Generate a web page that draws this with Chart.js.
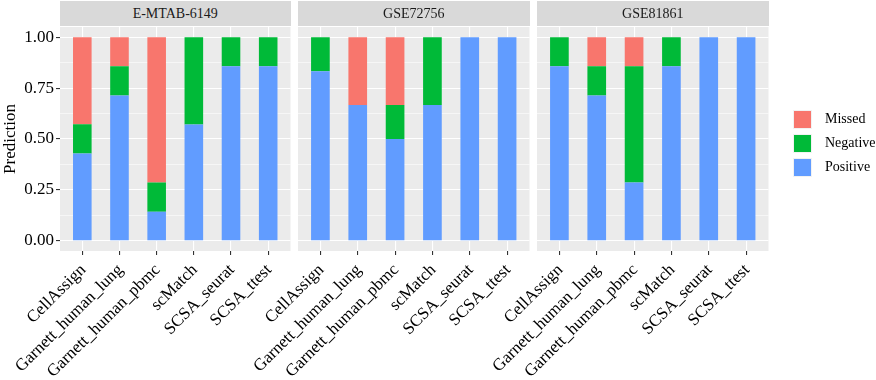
<!DOCTYPE html>
<html>
<head>
<meta charset="utf-8">
<script src="https://cdn.jsdelivr.net/npm/chart.js@4.4.0/dist/chart.umd.min.js"></script>
<style>
  body { margin: 0; background: #fff; }
  #wrap { position: relative; width: 876px; height: 380px; font-family: 'Liberation Serif', serif; }
  #wrap canvas { position: absolute; left: 0; top: 0; }
  .strip { position: absolute; top: 1px; height: 25px; line-height: 26px; background: #d9d9d9; color: #1a1a1a; font-size: 14px; text-align: center; }
  .key { position: absolute; left: 793px; width: 17px; height: 17px; border: 1px solid #f2f2f2; }
  .lab { position: absolute; left: 825px; font-size: 14px; color: #000; line-height: 18px; }
</style>
</head>
<body>
<div id="wrap">
  <canvas id="c1" width="876" height="380"></canvas>
  <canvas id="c2" width="876" height="380"></canvas>
  <canvas id="c3" width="876" height="380"></canvas>
</div>
<script>
const methods = ['CellAssign', 'Garnett_human_lung', 'Garnett_human_pbmc', 'scMatch', 'SCSA_seurat', 'SCSA_ttest'];
const facets = ['E-MTAB-6149', 'GSE72756', 'GSE81861'];
const outcomes = ['Missed', 'Negative', 'Positive'];
const colors = ['#F8766D', '#00BA38', '#619CFF'];
const yTicks = [0, 0.25, 0.5, 0.75, 1];

// E-MTAB-6149
const positiveE = [0.429, 0.714, 0.143, 0.571, 0.857, 0.857];
const negativeE = [0.143, 0.143, 0.143, 0.429, 0.143, 0.143];
const missedE = [0.428, 0.143, 0.714, 0, 0, 0];
// GSE72756
const positive72 = [0.833, 0.667, 0.5, 0.667, 1, 1];
const negative72 = [0.167, 0, 0.167, 0.333, 0, 0];
const missed72 = [0, 0.333, 0.333, 0, 0, 0];
// GSE81861
const positive81 = [0.857, 0.714, 0.286, 0.857, 1, 1];
const negative81 = [0.143, 0.143, 0.571, 0.143, 0, 0];
const missed81 = [0, 0.143, 0.143, 0, 0, 0];

const series = [
  [missedE, negativeE, positiveE],
  [missed72, negative72, positive72],
  [missed81, negative81, positive81]
];

// panel pixel bounds
const panels = [[60, 290.5], [298, 529.5], [537, 768.5]];
const panelTop = 27;
const panelBottom = 251;

// minor grid lines halfway between the labelled ticks
const yGrid = [];
yTicks.forEach((v, i) => {
  yGrid.push(v);
  if (i < yTicks.length - 1) yGrid.push((v + yTicks[i + 1]) / 2);
});
const isMajor = v => yTicks.some(t => Math.abs(t - v) < 1e-6);

const font = 'Liberation Serif';

const panelBg = {
  id: 'panelBg',
  beforeDraw(chart) {
    const { ctx, chartArea: a } = chart;
    ctx.save();
    ctx.fillStyle = '#ebebeb';
    ctx.fillRect(a.left, a.top, a.right - a.left, a.bottom - a.top);
    ctx.restore();
  }
};

const wrap = document.getElementById('wrap');

facets.forEach((name, p) => {
  const [left, right] = panels[p];
  const strip = document.createElement('div');
  strip.className = 'strip';
  strip.style.left = left + 'px';
  strip.style.width = (right - left) + 'px';
  strip.textContent = name;
  wrap.appendChild(strip);

  const first = p === 0;
  // stack from the bottom: Positive, Negative, Missed
  const datasets = [2, 1, 0].map(k => ({
    label: outcomes[k],
    data: series[p][k].map((v, i) => ({ x: i + 1, y: v })),
    backgroundColor: colors[k],
    borderWidth: 0,
    categoryPercentage: 1,
    barPercentage: 0.5
  }));

  new Chart(document.getElementById('c' + (p + 1)).getContext('2d'), {
    type: 'bar',
    data: { datasets },
    plugins: [panelBg],
    options: {
      responsive: false,
      animation: false,
      devicePixelRatio: 1,
      layout: { padding: { left: first ? 0 : left, right: 876 - right, top: panelTop, bottom: 0 } },
      plugins: { legend: { display: false }, tooltip: { enabled: false } },
      scales: {
        x: {
          type: 'linear',
          stacked: true,
          offset: false,
          min: 0.4,
          max: 6.6,
          afterBuildTicks: s => { s.ticks = methods.map((m, i) => ({ value: i + 1 })); },
          afterFit: s => { s.height = 380 - panelBottom; s.paddingLeft = 0; s.paddingRight = 0; },
          border: { display: false },
          grid: { offset: false, color: '#ffffff', lineWidth: 1.1, tickColor: '#333333', tickLength: 4 },
          ticks: {
            autoSkip: false,
            minRotation: 45,
            maxRotation: 45,
            padding: 5,
            labelOffset: 1,
            color: '#000',
            font: { family: font, size: 17 },
            callback: v => methods[Math.round(v) - 1]
          }
        },
        y: {
          stacked: true,
          min: -0.05,
          max: 1.05,
          afterBuildTicks: s => { s.ticks = yGrid.map(v => ({ value: v })); },
          afterFit: s => { s.width = first ? 60 : 0; s.paddingTop = 0; s.paddingBottom = 0; },
          border: { display: false },
          grid: {
            color: '#ffffff',
            lineWidth: c => isMajor(c.tick.value) ? 1.1 : 0.55,
            tickColor: c => isMajor(c.tick.value) ? '#333333' : 'rgba(0,0,0,0)',
            tickLength: first ? 4 : 0,
            drawTicks: first
          },
          ticks: {
            display: first,
            padding: 2,
            color: '#000',
            font: { family: font, size: 17 },
            callback: v => isMajor(v) ? v.toFixed(2) : ''
          },
          title: {
            display: first,
            text: 'Prediction',
            color: '#000',
            padding: 0,
            font: { family: font, size: 17 }
          }
        }
      }
    }
  });
});

// legend
outcomes.forEach((name, k) => {
  const top = 110 + k * 24;
  const key = document.createElement('div');
  key.className = 'key';
  key.style.top = top + 'px';
  key.style.background = colors[k];
  wrap.appendChild(key);
  const lab = document.createElement('div');
  lab.className = 'lab';
  lab.style.top = top + 'px';
  lab.textContent = name;
  wrap.appendChild(lab);
});
</script>
</body>
</html>
